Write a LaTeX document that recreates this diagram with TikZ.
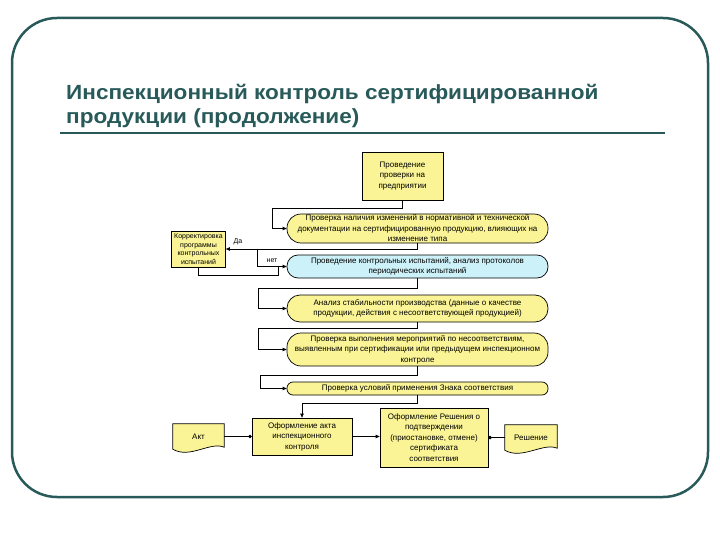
\documentclass[tikz,border=0pt]{standalone}
\usepackage{fontspec}
\setmainfont{Liberation Sans}
\newfontfamily\ttlfam[FakeStretch=1.1]{Liberation Sans}
\usetikzlibrary{arrows.meta,calc,backgrounds}
\definecolor{teal1}{RGB}{40,90,90}
\definecolor{yfill}{RGB}{250,244,150}
\definecolor{bfill}{RGB}{205,241,248}
\newcommand\bxf{\fontsize{8pt}{10.5pt}\selectfont}
\newcommand\smf{\fontsize{7pt}{8.5pt}\selectfont}
\newcommand\lblf{\fontsize{7pt}{8pt}\selectfont}
\newcommand\ttlf{\ttlfam\fontsize{20.5pt}{24pt}\selectfont\bfseries}
\begin{document}
\begin{tikzpicture}[x=1pt,y=-1pt,
  ybox/.style={draw=black, line width=0.7pt, fill=yfill, inner sep=0pt, align=center, font=\bxf},
  rbox/.style={ybox, rounded corners=#1},
  docbox/.style={inner sep=0pt, font=\bxf},
  docshape/.style={draw=black, line width=0.7pt, fill=yfill},
  conn/.style={line width=0.7pt},
  arr/.style={conn, -{Triangle[length=4pt,width=3.5pt]}},
  dotend/.style={conn, -{Circle[length=3.5pt]}},
  dotstart/.style={conn, {Circle[length=3.5pt]}-},
  lbl/.style={inner sep=0pt, font=\lblf},
  ttl/.style={anchor=base west, inner sep=0pt, text=teal1, font=\ttlf},
]
\useasboundingbox (0,0) rectangle (720,540);
\draw[teal1, line width=2.5pt, rounded corners=45pt] (12,18) rectangle (708,497);
\node[ttl] (t1) at (66,100) {Инспекционный контроль сертифицированной};
\node[ttl] (t2) at (66,124) {продукции (продолжение)};
\draw[teal1, line width=2pt] (60,133) -- (665,133);

\node[ybox, minimum width=81pt, minimum height=48pt] (b1) at (402.5,176) {Проведение\\проверки на\\предприятии};
\node[rbox=14pt, minimum width=261pt, minimum height=29pt] (b2) at (417.5,228.5) {Проверка наличия изменений в нормативной и технической\\документации на сертифицированную продукцию, влияющих на\\изменение типа};
\node[ybox, font=\smf, minimum width=54pt, minimum height=36pt] (b3) at (198.5,249) {Корректировка\\программы\\контрольных\\испытаний};
\node[rbox=11pt, fill=bfill, minimum width=261pt, minimum height=23pt] (b4) at (417.5,266.5) {Проведение контрольных испытаний, анализ протоколов\\периодических испытаний};
\node[rbox=13pt, minimum width=261pt, minimum height=27pt] (b5) at (417.5,308.5) {Анализ стабильности производства (данные о качестве\\продукции, действия с несоответствующей продукцией)};
\node[rbox=14pt, minimum width=261pt, minimum height=33pt] (b6) at (417.5,349.5) {Проверка выполнения мероприятий по несоответствиям,\\выявленным при сертификации или предыдущем инспекционном\\контроле};
\node[rbox=6pt, minimum width=261pt, minimum height=13pt] (b7) at (417.5,388.5) {Проверка условий применения Знака соответствия};
\node[ybox, minimum width=100pt, minimum height=37pt] (b8) at (302,436.5) {Оформление акта\\инспекционного\\контроля};
\node[ybox, minimum width=108pt, minimum height=59pt] (b9) at (434,437.5) {Оформление Решения о\\подтверждении\\(приостановке, отмене)\\сертификата\\соответствия};
\node[docbox, minimum width=51pt, minimum height=25pt] (akt) at (198.5,436.5) {Акт};
\node[docbox, minimum width=52pt, minimum height=25pt] (resh) at (531,437.5) {Решение};

\begin{scope}[on background layer]
\draw[docshape] (akt.north west) -- (akt.north east) -- ($(akt.south east)+(0,-2)$)
  .. controls ($(akt.south east)+(-14,-8)$) and ($(akt.south west)+(17,10)$) .. (akt.south west) -- cycle;
\draw[docshape] (resh.north west) -- (resh.north east) -- ($(resh.south east)+(0,-2)$)
  .. controls ($(resh.south east)+(-14,-8)$) and ($(resh.south west)+(17,10)$) .. (resh.south west) -- cycle;
\end{scope}

\coordinate (j1) at (272,208);
\draw[arr] (b1.south) |- (j1) |- (b2.west);
\draw[arr] (b2.south) |- (b3.east);
\node[lbl] (da) at (238,242) {Да};
\coordinate (j3) at (257,249);
\draw[arr] (j3) |- (b4.west);
\node[lbl] (net) at (272,261) {нет};
\coordinate (j4) at (278,275);
\draw[conn] (b3.south) |- (j4) -- (j4 |- b4.west);
\coordinate (j5) at (258,288);
\draw[arr] (b4.south) |- (j5) |- (b5.west);
\coordinate (j6) at (258,328);
\draw[arr] (b5.south) |- (j6) |- (b6.west);
\coordinate (j7) at (260,375);
\draw[arr] (b6.south) |- (j7) |- (b7.west);
\coordinate (j8) at (302,403);
\draw[arr] (b7.south) |- (j8) -- (b8.north);
\draw[dotend] (akt.east) -- (b8.west);
\draw[arr] (b8.east) -- (b8.east -| b9.west);
\draw[dotstart] (b9.east) -- (resh.west);
\end{tikzpicture}
\end{document}
